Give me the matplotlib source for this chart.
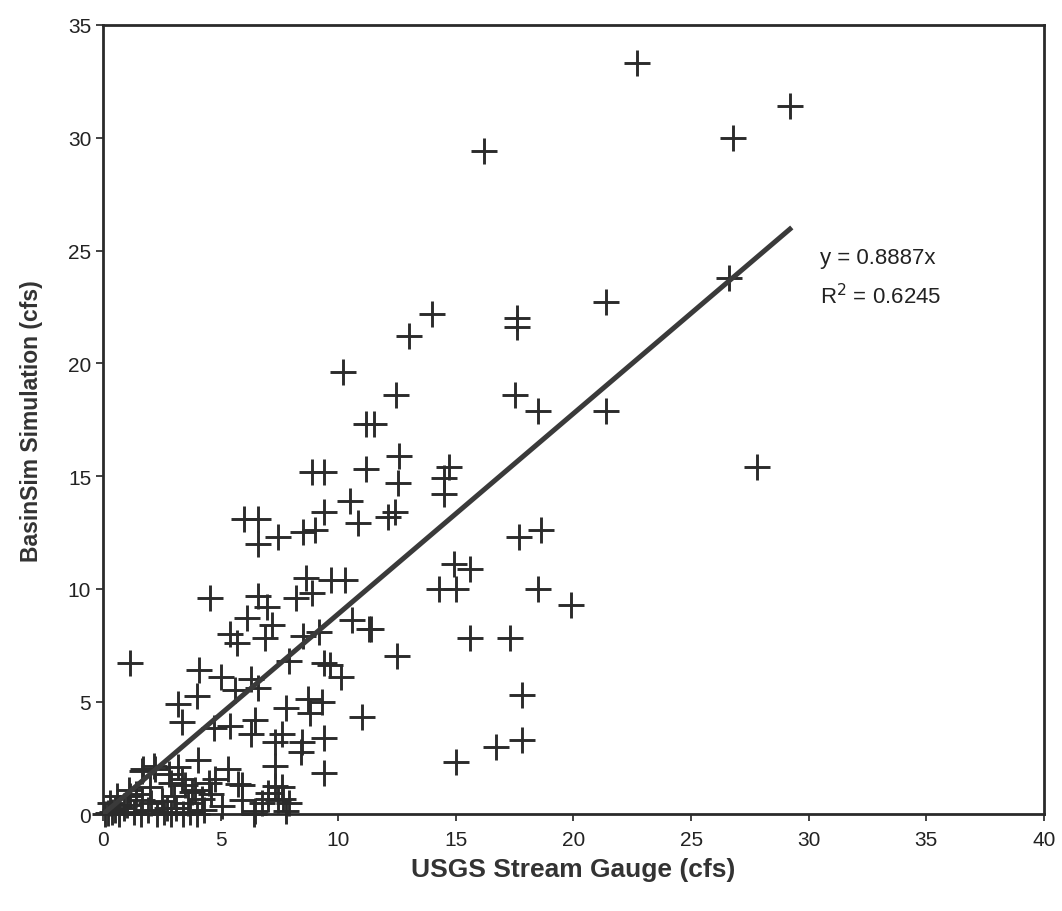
import matplotlib
matplotlib.use("Agg")
import matplotlib.pyplot as plt
import numpy as np

plt.rcParams['font.family'] = ['Liberation Sans', 'DejaVu Sans']

# USGS gauge (x) vs BasinSim (y)
gauge = [22.7, 29.2, 26.8, 16.2, 26.6, 21.4, 14.0, 13.0, 17.6, 17.6, 17.5, 18.5, 21.4, 27.8,
         14.7, 14.5, 14.5, 12.6, 12.55, 17.7, 18.6, 14.9, 15.6, 14.3, 15.0, 18.5, 19.9, 15.6,
         17.3, 17.8, 16.7, 17.8, 15.0, 12.5,
         10.2, 12.45, 11.2, 11.5, 8.9, 9.4, 11.2, 6.0, 6.6, 6.6, 7.45, 8.5, 9.0, 9.4, 10.5,
         10.85, 12.1, 12.4,
         4.55, 6.6, 6.95, 6.1, 7.2, 8.2, 8.65, 8.9, 9.7, 10.3, 5.4, 5.7, 6.9, 8.5, 9.2, 10.6,
         11.3, 11.4,
         1.15, 4.1, 5.0, 6.3, 5.6, 6.6, 7.9, 9.4, 9.65, 10.1,
         3.2, 3.35, 4.0, 4.7, 5.4, 6.45, 6.3, 7.8, 8.7, 9.3, 8.8, 11.0, 7.6, 7.3, 8.45, 9.4,
         8.4, 9.4, 4.05, 1.7, 2.2, 7.3, 5.3, 5.75, 7.3, 7.65, 7.8, 7.0, 6.4, 1.15,
         2.15, 1.65, 1.1, 2.9, 3.35, 3.9, 4.5, 4.75, 5.9, 7.0, 7.6, 5.9, 6.75, 7.45, 7.9, 6.45,
         5.05, 2.05, 1.65, 0.5, 0.2,
         0.1, 0.4, 0.7, 0.9, 1.3, 1.6, 1.9, 2.3, 2.6, 2.9, 3.1, 3.4, 3.7, 4.0, 4.3, 2.5, 3.0,
         3.6, 4.2, 2.8, 3.2, 0.3, 1.0, 1.4, 2.0, 3.8, 4.6, 0.6, 2.7, 3.5]
basinsim = [33.3, 31.4, 30.0, 29.4, 23.8, 22.7, 22.2, 21.2, 22.0, 21.6, 18.6, 17.9, 17.9, 15.4,
            15.4, 14.9, 14.2, 15.9, 14.7, 12.3, 12.6, 11.1, 10.9, 10.0, 10.0, 10.0, 9.3, 7.8,
            7.8, 5.3, 3.0, 3.3, 2.3, 7.0,
            19.6, 18.6, 17.3, 17.3, 15.2, 15.2, 15.3, 13.1, 13.1, 12.0, 12.3, 12.5, 12.6, 13.4,
            13.9, 12.9, 13.2, 13.4,
            9.6, 9.7, 9.2, 8.7, 8.4, 9.6, 10.5, 9.8, 10.4, 10.4, 8.0, 7.6, 7.8, 7.9, 8.1, 8.6,
            8.2, 8.2,
            6.7, 6.4, 6.1, 6.0, 5.5, 5.6, 6.8, 6.7, 6.6, 6.1,
            4.9, 4.1, 5.25, 3.85, 3.9, 4.2, 3.55, 4.7, 5.1, 5.0, 4.5, 4.3, 3.55, 3.2, 3.2, 3.4,
            2.75, 1.85, 2.4, 2.0, 2.0, 2.15, 2.0, 1.35, 1.25, 0.7, 0.15, 0.7, 0.0, 0.8,
            2.15, 1.9, 1.1, 1.4, 1.55, 1.1, 1.4, 1.55, 1.3, 0.95, 1.2, 0.65, 0.5, 0.65, 0.5, 0.15,
            0.35, 0.5, 0.65, 0.2, 0.05,
            0.0, 0.1, 0.0, 0.3, 0.1, 0.0, 0.2, 0.0, 0.1, 0.0, 0.3, 0.0, 0.1, 0.0, 0.2, 0.6, 0.8,
            0.5, 0.7, 1.8, 2.1, 0.5, 0.4, 0.9, 1.2, 1.0, 0.9, 0.8, 0.3, 1.3]

slope = 0.8887
r2 = 0.6245

fig = plt.figure(figsize=(10.62, 9.12), dpi=100)
ax = fig.add_axes([0.097, 0.106, 0.886, 0.8655])

ax.plot(gauge, basinsim, linestyle='none', marker='+', markersize=19,
        markeredgewidth=2.1, color='#2b2b2b', clip_on=False, zorder=3)

xl = np.array([0, max(gauge)])
ax.plot(xl, slope * xl, color='#3a3a3a', linewidth=3.6, zorder=4)

ax.text(30.5, 24.7, 'y = %.4fx' % slope, fontsize=16, color='#222222', va='center')
ax.text(30.5, 23.0, 'R$^2$ = %.4f' % r2, fontsize=16, color='#222222', va='center')

ax.set_xlim(0, 40)
ax.set_ylim(0, 35)
ax.set_xticks(range(0, 41, 5))
ax.set_yticks(range(0, 36, 5))
ax.tick_params(direction='out', length=5, width=1.2, labelsize=15, colors='#222222')
ax.tick_params(axis='x', pad=6)
for s in ax.spines.values():
    s.set_linewidth(2.0)
    s.set_color('#2a2a2a')

ax.set_xlabel('USGS Stream Gauge (cfs)', fontsize=19, fontweight='bold', labelpad=6, color='#333333')
ax.set_ylabel('BasinSim Simulation (cfs)', fontsize=16.5, fontweight='bold', labelpad=18, color='#333333')

fig.savefig('out.png', dpi=100)
